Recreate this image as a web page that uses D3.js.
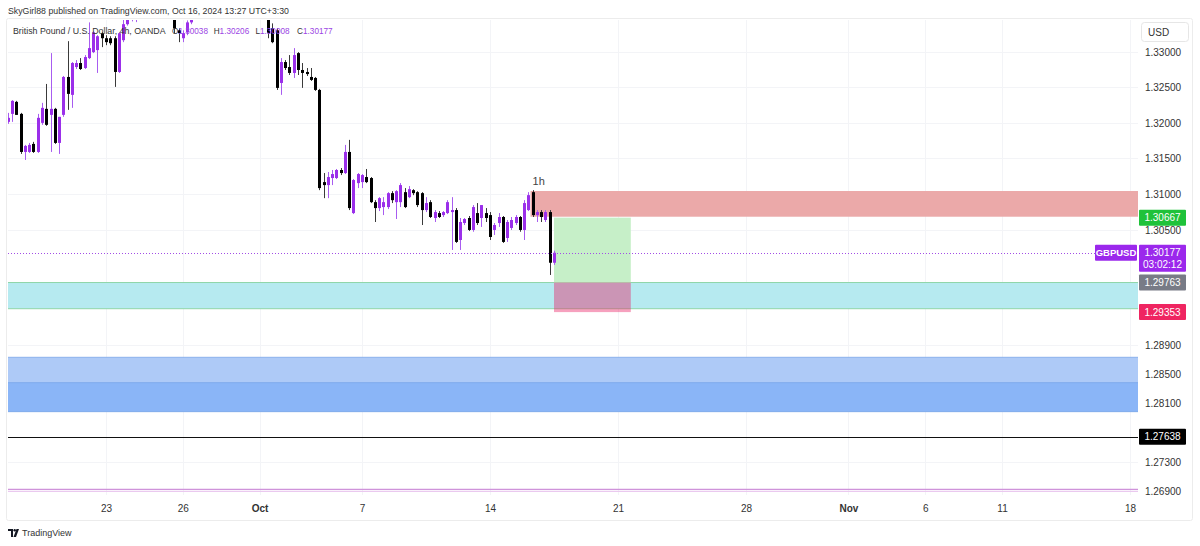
<!DOCTYPE html>
<html><head><meta charset="utf-8">
<script src="https://cdn.jsdelivr.net/npm/d3@7"></script>
<style>body{margin:0;background:#fff;} svg{display:block;}</style>
</head><body><svg id="c" width="1200" height="546"></svg>
<script>
// ---------- DATA ----------
const firstBar = -23;            // bar index of first candle (0 = first 4h bar of Sep 23)
const barsPerDay = 6;
const opens  = [1.32013,1.32126,1.32296,1.32126,1.31589,1.31589,1.31702,1.31589,1.31999,1.32197,1.32112,1.32197,1.31716,1.32112,1.32649,1.32395,1.32790,1.32847,1.32776,1.32917,1.33002,1.33031,1.33271,
1.33200,1.33200,1.33200,1.32720,1.33172,1.33400,1.33650,1.33780,1.33880,1.34050,1.34210,1.34080,1.33960,1.34020,1.33780,1.33650,1.33600,1.33313,1.33200,1.33285,1.33426,1.33580,1.33850,1.34020,1.34250,1.34080,1.33920,1.34180,1.34100,1.33850,1.33900,1.34200,1.34020,1.33780,1.33720,1.33760,1.33800,1.33680,1.33620,1.33341,1.33313,
1.32564,1.32861,1.32790,1.32706,1.32988,1.32748,1.32720,1.32649,1.32635,1.32465,1.31165,1.31123,1.31222,1.31222,1.31335,1.31292,1.31589,1.30731,1.31151,1.31165,1.31236,1.31222,1.30884,1.30801,1.30815,1.30815,1.31010,1.30884,
1.30884,1.31024,1.30954,1.31052,1.31024,1.31010,1.30773,1.30884,1.30662,1.30731,1.30703,1.30731,1.30745,1.30773,1.30355,1.30592,1.30662,1.30495,1.30731,1.30662,1.30731,1.30703,1.30495,1.30592,1.30676,1.30383,1.30523,1.30592,1.30676,1.30495,1.30773,1.31024,1.30703,1.30745,1.30634,1.30745,1.30038];
const highs  = [1.32140,1.32320,1.32310,1.32140,1.31688,1.31716,1.31731,1.32126,1.32282,1.32550,1.32988,1.32211,1.32084,1.32663,1.33158,1.32861,1.32889,1.32917,1.32960,1.33426,1.33299,1.33243,1.33285,
1.33243,1.33228,1.33228,1.33285,1.33500,1.33720,1.33850,1.33920,1.34120,1.34280,1.34300,1.34180,1.34120,1.34100,1.33920,1.33800,1.33660,1.33341,1.33313,1.33454,1.33650,1.33920,1.34100,1.34340,1.34320,1.34200,1.34250,1.34280,1.34220,1.33980,1.34340,1.34300,1.34120,1.33920,1.33850,1.33880,1.33900,1.33750,1.33720,1.33412,1.33341,
1.32917,1.32889,1.32960,1.33059,1.33002,1.32847,1.32776,1.32776,1.32649,1.32480,1.31292,1.31307,1.31335,1.31349,1.31363,1.31688,1.31759,1.31208,1.31292,1.31278,1.31349,1.31236,1.30912,1.30954,1.30954,1.31024,1.31038,1.31052,
1.31151,1.31081,1.31109,1.31066,1.31038,1.31024,1.30954,1.30912,1.30773,1.30759,1.30759,1.30912,1.30954,1.30801,1.30662,1.30662,1.30690,1.30843,1.30871,1.30843,1.30801,1.30745,1.30592,1.30731,1.30690,1.30634,1.30676,1.30703,1.30690,1.30912,1.31024,1.31052,1.30773,1.30773,1.30773,1.30773,1.30206];
const lows   = [1.31985,1.32013,1.32112,1.31561,1.31476,1.31575,1.31575,1.31575,1.31971,1.31957,1.31589,1.31702,1.31561,1.32084,1.32183,1.32211,1.32762,1.32748,1.32762,1.32903,1.32988,1.32706,1.33073,
1.33101,1.33101,1.32508,1.32706,1.33144,1.33380,1.33440,1.33430,1.33720,1.33950,1.33980,1.33900,1.33800,1.33720,1.33580,1.33500,1.33271,1.33144,1.33144,1.33243,1.33400,1.33520,1.33750,1.33950,1.33980,1.33850,1.33800,1.34000,1.33780,1.33620,1.33850,1.33950,1.33700,1.33600,1.33580,1.33620,1.33580,1.33500,1.33200,1.33129,1.32465,
1.32395,1.32748,1.32677,1.32635,1.32677,1.32494,1.32663,1.32592,1.32451,1.31052,1.30940,1.30940,1.31123,1.31208,1.31264,1.31278,1.30773,1.30717,1.31081,1.31081,1.31151,1.30871,1.30606,1.30759,1.30703,1.30787,1.30871,1.30648,
1.30815,1.30801,1.30940,1.30982,1.30815,1.30564,1.30745,1.30662,1.30606,1.30662,1.30676,1.30717,1.30216,1.30314,1.30216,1.30564,1.30480,1.30470,1.30564,1.30537,1.30606,1.30355,1.30425,1.30537,1.30314,1.30328,1.30495,1.30564,1.30470,1.30355,1.30759,1.30676,1.30606,1.30606,1.30606,1.29868,1.30008];
const closes = [1.32070,1.32310,1.32112,1.31589,1.31674,1.31688,1.31589,1.32070,1.32211,1.31971,1.32197,1.31716,1.32084,1.32649,1.32409,1.32847,1.32847,1.32762,1.32932,1.33059,1.33285,1.33228,1.33200,
1.33144,1.33129,1.32720,1.33271,1.33400,1.33650,1.33780,1.33880,1.34050,1.34210,1.34080,1.33960,1.34020,1.33780,1.33650,1.33600,1.33341,1.33271,1.33271,1.33426,1.33580,1.33850,1.34020,1.34250,1.34080,1.33920,1.34180,1.34100,1.33850,1.33900,1.34200,1.34020,1.33780,1.33720,1.33760,1.33800,1.33680,1.33620,1.33271,1.33144,1.32494,
1.32861,1.32776,1.32706,1.32960,1.32748,1.32706,1.32690,1.32607,1.32465,1.31081,1.31123,1.31236,1.31278,1.31335,1.31292,1.31589,1.30801,1.31194,1.31278,1.31264,1.31165,1.30884,1.30801,1.30940,1.30884,1.31010,1.30912,1.31038,
1.31123,1.30815,1.31066,1.31010,1.30843,1.30773,1.30871,1.30676,1.30745,1.30676,1.30745,1.30884,1.30773,1.30328,1.30606,1.30648,1.30495,1.30815,1.30592,1.30843,1.30662,1.30397,1.30564,1.30676,1.30328,1.30606,1.30634,1.30676,1.30495,1.30871,1.30982,1.30703,1.30745,1.30676,1.30745,1.30038,1.30177];

const dayLabels = ["23","26","Oct","7","14","21","28","Nov","6","11","18"];
const dayIndex  = [0,3,6,10,15,20,25,29,32,35,40];
const boldLabels = ["Oct","Nov"];
const priceTicks = [1.33,1.325,1.32,1.315,1.31,1.305,1.289,1.285,1.281,1.273,1.269];

const symbol = "GBPUSD";
const lastPrice = 1.30177;
const countdown = "03:02:12";
const ohlcKeys = ["O","H","L","C"];
const ohlcVals = [1.30038,1.30206,1.30008,1.30177];

const redZone = [1.30680, 1.31040];   const redZoneStartBar = 100;  const redZoneLabel = "1h";
const cyanZone = [1.29400, 1.29763];
const blueZoneLight = [1.27982, 1.28729];
const blueZoneDark  = [1.27982, 1.28380];
const blackLine = 1.27638;
const pinkLine = 1.26910;
const posEntry = 1.29763, posTarget = 1.30667, posStop = 1.29353;
const posStartBar = 105, posEndBar = 123;

const headerText = "SkyGirl88 published on TradingView.com, Oct 16, 2024 13:27 UTC+3:30";
const titleText = "British Pound / U.S. Dollar, 4h, OANDA";

// ---------- LAYOUT ----------
const W = 1200, H = 546;
const pane = {left: 8, right: 1138, top: 20, bottom: 495};
const FONT = "'Liberation Sans', Arial, sans-serif";
const BULL = "#9b2fea", BEAR = "#000000";

const svg = d3.select("#c");
svg.append("rect").attr("width", W).attr("height", H).attr("fill", "#fff");

const x = d3.scaleLinear().domain([0, 40 * barsPerDay]).range([106, 1130]);
const y = d3.scaleLog().domain([1.26846, 1.3346]).range([pane.bottom, pane.top]);
const barW = x(1) - x(0);

// outer border
svg.append("rect").attr("x", 6.5).attr("y", 18.5).attr("width", 1186).attr("height", 502)
  .attr("fill", "none").attr("stroke", "#ececec").attr("rx", 2);

const defs = svg.append("defs");
defs.append("clipPath").attr("id", "pane").append("rect")
  .attr("x", pane.left).attr("y", pane.top).attr("width", pane.right - pane.left).attr("height", pane.bottom - pane.top);

const g = svg.append("g").attr("clip-path", "url(#pane)");

// grid
g.selectAll("line.vg").data(dayIndex).join("line")
  .attr("x1", d => Math.round(x(d * barsPerDay)) + 0.5).attr("x2", d => Math.round(x(d * barsPerDay)) + 0.5)
  .attr("y1", pane.top).attr("y2", pane.bottom).attr("stroke", "#f3f4f7");
g.selectAll("line.hg").data(priceTicks).join("line")
  .attr("x1", pane.left).attr("x2", pane.right)
  .attr("y1", d => Math.round(y(d)) + 0.5).attr("y2", d => Math.round(y(d)) + 0.5).attr("stroke", "#f3f4f7");

// zones
function band(lo, hi, x0, x1, fill) {
  return g.append("rect").attr("x", x0).attr("width", x1 - x0)
    .attr("y", y(hi)).attr("height", y(lo) - y(hi)).attr("fill", fill);
}
band(blueZoneLight[0], blueZoneLight[1], pane.left, pane.right, "#aecaf7");
band(blueZoneDark[0], blueZoneDark[1], pane.left, pane.right, "#8ab5f7");
[blueZoneLight[1], blueZoneDark[1], blueZoneLight[0]].forEach(v => {
  g.append("line").attr("x1", pane.left).attr("x2", pane.right).attr("y1", y(v)).attr("y2", y(v))
    .attr("stroke", "#7aa6e8").attr("stroke-width", 0.8);
});
band(cyanZone[0], cyanZone[1], pane.left, pane.right, "#b6eaf0");
cyanZone.forEach(v => {
  g.append("line").attr("x1", pane.left).attr("x2", pane.right).attr("y1", y(v)).attr("y2", y(v))
    .attr("stroke", "#8fd6a9").attr("stroke-width", 1);
});
band(redZone[0], redZone[1], x(redZoneStartBar) - barW / 2, pane.right, "#eba9a9");

// long position tool
band(posEntry, posTarget, x(posStartBar), x(posEndBar), "#c6efc8");
band(posStop, posEntry, x(posStartBar), x(posEndBar), "rgba(233,30,99,0.42)");

// lines
g.append("line").attr("x1", pane.left).attr("x2", pane.right)
  .attr("y1", Math.round(y(blackLine)) + 0.5).attr("y2", Math.round(y(blackLine)) + 0.5)
  .attr("stroke", "#111").attr("stroke-width", 1);
g.append("line").attr("x1", pane.left).attr("x2", pane.right)
  .attr("y1", y(pinkLine) - 1).attr("y2", y(pinkLine) - 1).attr("stroke", "#cf93da").attr("stroke-width", 1.2);
g.append("line").attr("x1", pane.left).attr("x2", pane.right)
  .attr("y1", y(pinkLine) + 1).attr("y2", y(pinkLine) + 1).attr("stroke", "#e7bdec").attr("stroke-width", 1);

// candles
const candles = opens.map((o, k) => ({i: firstBar + k, o, h: highs[k], l: lows[k], c: closes[k]}));
const cg = g.append("g");
cg.selectAll("line.w").data(candles).join("line")
  .attr("x1", d => Math.round(x(d.i)) + 0.5).attr("x2", d => Math.round(x(d.i)) + 0.5)
  .attr("y1", d => y(d.h)).attr("y2", d => y(d.l))
  .attr("stroke", d => d.c >= d.o ? "#a85cf0" : "#3a3a3a").attr("stroke-width", 1);
cg.selectAll("rect.b").data(candles).join("rect")
  .attr("x", d => Math.round(x(d.i)) - 1).attr("width", 3)
  .attr("y", d => y(Math.max(d.o, d.c)))
  .attr("height", d => Math.max(1, Math.abs(y(d.o) - y(d.c))))
  .attr("fill", d => d.c >= d.o ? BULL : BEAR);

// current price dotted line
svg.append("line").attr("x1", pane.left).attr("x2", 1095)
  .attr("y1", Math.round(y(lastPrice)) + 0.5).attr("y2", Math.round(y(lastPrice)) + 0.5)
  .attr("stroke", "#a24de6").attr("stroke-dasharray", "1,2");

// "1h" label
svg.append("text").attr("x", x(redZoneStartBar) + 6).attr("y", y(redZone[1]) - 6)
  .attr("text-anchor", "middle").attr("font-family", FONT).attr("font-size", 11)
  .attr("fill", "#444").text(redZoneLabel);

// ---------- AXES ----------
const yAxis = d3.axisRight(y).tickValues(priceTicks).tickFormat(d3.format(".5f")).tickSize(0).tickPadding(0);
const ya = svg.append("g").attr("transform", "translate(1163,0)").call(yAxis);
ya.select(".domain").remove();
ya.selectAll("text").attr("text-anchor", "middle").attr("font-family", FONT).attr("font-size", 10).attr("fill", "#333").attr("dy", "0.35em");

const xAxis = d3.axisBottom(x).tickValues(dayIndex.map(d => d * barsPerDay))
  .tickFormat((d, k) => dayLabels[k]).tickSize(0).tickPadding(0);
const xa = svg.append("g").attr("transform", "translate(0,508)").call(xAxis);
xa.select(".domain").remove();
xa.selectAll("text").attr("font-family", FONT).attr("font-size", 10).attr("fill", "#333").attr("dy", "0.35em")
  .attr("font-weight", d => boldLabels.includes(dayLabels[dayIndex.indexOf(d / barsPerDay)]) ? "bold" : "normal");

// USD box
svg.append("rect").attr("x", 1141.5).attr("y", 22.5).attr("width", 47).attr("height", 19).attr("rx", 3)
  .attr("fill", "#fff").attr("stroke", "#e6e6e6");
svg.append("text").attr("x", 1148).attr("y", 32).attr("dy", "0.35em").attr("font-family", FONT)
  .attr("font-size", 10).attr("fill", "#333").text("USD");

// price label boxes
function priceBox(v, fill, lines, h) {
  const cy = y(v);
  const top = lines.length > 1 ? cy - 8 : cy - h / 2;
  svg.append("rect").attr("x", 1139).attr("y", top).attr("width", 47).attr("height", h).attr("rx", 1).attr("fill", fill);
  lines.forEach((t, k) => {
    svg.append("text").attr("x", 1162.5).attr("y", top + 8 + k * 12).attr("dy", "0.35em")
      .attr("text-anchor", "middle").attr("font-family", FONT).attr("font-size", 10).attr("fill", "#fff").text(t);
  });
}
priceBox(posTarget, "#1fc23a", [d3.format(".5f")(posTarget)], 16);
priceBox(lastPrice, "#9b28ec", [d3.format(".5f")(lastPrice), countdown], 27);
priceBox(posEntry, "#787b86", [d3.format(".5f")(posEntry)], 16);
priceBox(posStop, "#ef2561", [d3.format(".5f")(posStop)], 16);
priceBox(blackLine, "#000", [d3.format(".5f")(blackLine)], 16);

// symbol tag
svg.append("rect").attr("x", 1095).attr("y", y(lastPrice) - 8).attr("width", 42).attr("height", 16).attr("rx", 1).attr("fill", "#9b28ec");
svg.append("text").attr("x", 1116).attr("y", y(lastPrice)).attr("dy", "0.35em").attr("text-anchor", "middle")
  .attr("font-family", FONT).attr("font-size", 9.5).attr("font-weight", "bold").attr("fill", "#fff").text(symbol);

// ---------- HEADER ----------
svg.append("text").attr("x", 8).attr("y", 11).attr("dy", "0.35em").attr("font-family", FONT)
  .attr("font-size", 9).attr("fill", "#333").attr("textLength", 281).attr("lengthAdjust", "spacingAndGlyphs").text(headerText);
svg.append("text").attr("x", 13).attr("y", 31).attr("dy", "0.35em").attr("font-family", FONT)
  .attr("font-size", 8.8).attr("fill", "#333").text(titleText);
ohlcKeys.forEach((k, n) => {
  const t = svg.append("text").attr("x", 172 + n * 41.7).attr("y", 31).attr("dy", "0.35em")
    .attr("font-family", FONT).attr("font-size", 8.2);
  t.append("tspan").attr("fill", "#333").text(k);
  t.append("tspan").attr("fill", "#9c45e4").text(d3.format(".5f")(ohlcVals[n]));
});

// ---------- FOOTER LOGO ----------
const logo = svg.append("g").attr("transform", "translate(8,529)");
logo.append("path").attr("d", "M0 0 H5 V8 H3 V2 H0 Z").attr("fill", "#131722");
logo.append("circle").attr("cx", 6.7).attr("cy", 1.2).attr("r", 1.2).attr("fill", "#131722");
logo.append("path").attr("d", "M8.5 0 H11 L8 8 H5.5 Z").attr("fill", "#131722");
svg.append("text").attr("x", 22).attr("y", 533).attr("dy", "0.35em").attr("font-family", FONT)
  .attr("font-size", 9).attr("fill", "#333").text("TradingView");
</script>
</body></html>
